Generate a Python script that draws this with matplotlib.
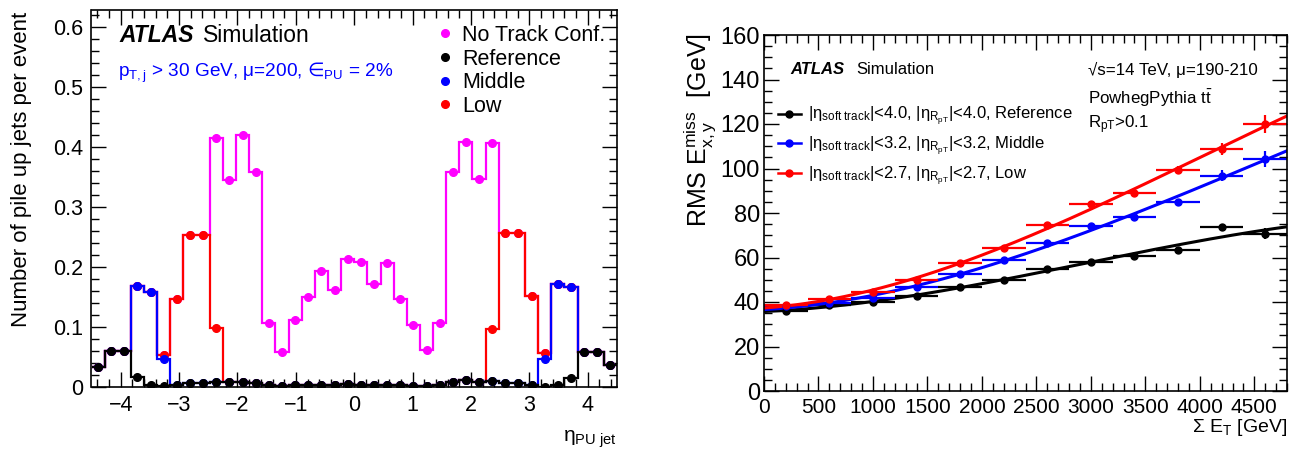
import numpy as np
import matplotlib
matplotlib.use('Agg')
import matplotlib.pyplot as plt
from matplotlib.ticker import MultipleLocator
from matplotlib.lines import Line2D

plt.rcParams['font.family'] = ['Liberation Sans', 'DejaVu Sans']
plt.rcParams['mathtext.fontset'] = 'custom'
plt.rcParams['mathtext.rm'] = 'Liberation Sans'
plt.rcParams['mathtext.it'] = 'Liberation Sans:italic'
plt.rcParams['mathtext.bf'] = 'Liberation Sans:bold'
plt.rcParams['mathtext.sf'] = 'DejaVu Sans'
plt.rcParams['mathtext.default'] = 'regular'
plt.rcParams['mathtext.fallback'] = 'stixsans'

# --- pile-up jets per event vs eta (40 bins, -4.5..4.5) ---
eta_lo, eta_hi, n_bins = -4.5, 4.5, 40

reference = [0.034, 0.060, 0.060, 0.016, 0.003, 0.001, 0.004, 0.007, 0.007, 0.009,
             0.009, 0.009, 0.007, 0.003, 0.001, 0.003, 0.004, 0.004, 0.004, 0.005,
             0.004, 0.004, 0.004, 0.003, 0.002, 0.001, 0.003, 0.009, 0.011, 0.009,
             0.010, 0.007, 0.007, 0.003, 0.000, 0.004, 0.015, 0.059, 0.058, 0.037]
middle = [0.034, 0.060, 0.060, 0.169, 0.159, 0.046, 0.004, 0.007, 0.007, 0.009,
          0.009, 0.009, 0.007, 0.003, 0.001, 0.003, 0.004, 0.004, 0.004, 0.005,
          0.004, 0.004, 0.004, 0.003, 0.002, 0.001, 0.003, 0.009, 0.011, 0.009,
          0.010, 0.007, 0.007, 0.003, 0.047, 0.171, 0.166, 0.059, 0.058, 0.037]
low = [0.034, 0.060, 0.060, 0.169, 0.159, 0.054, 0.147, 0.254, 0.253, 0.098,
       0.009, 0.009, 0.007, 0.003, 0.001, 0.003, 0.004, 0.004, 0.004, 0.005,
       0.004, 0.004, 0.004, 0.003, 0.002, 0.001, 0.003, 0.009, 0.011, 0.009,
       0.096, 0.256, 0.257, 0.151, 0.057, 0.171, 0.166, 0.059, 0.058, 0.037]
no_track = [0.034, 0.060, 0.060, 0.169, 0.159, 0.054, 0.147, 0.254, 0.253, 0.414,
            0.344, 0.419, 0.358, 0.107, 0.058, 0.112, 0.150, 0.194, 0.162, 0.214,
            0.209, 0.171, 0.206, 0.147, 0.103, 0.061, 0.107, 0.358, 0.408, 0.346,
            0.406, 0.256, 0.257, 0.151, 0.057, 0.171, 0.166, 0.059, 0.058, 0.037]

# --- RMS MET vs sum ET ---
sumet = [200, 600, 1000, 1400, 1800, 2200, 2600, 3000, 3400, 3800, 4200, 4600]
sumet_err = 200
rms_ref = [36.0, 38.5, 40.0, 42.7, 46.8, 49.8, 55.0, 58.1, 60.5, 63.5, 73.5, 70.7]
rms_mid = [38.0, 39.4, 42.0, 46.9, 52.4, 58.7, 66.6, 74.1, 78.3, 84.9, 96.8, 104.3]
rms_low = [38.5, 41.5, 44.7, 50.0, 57.5, 64.4, 74.7, 84.0, 89.1, 99.2, 108.8, 120.1]
err_ref = [0.4, 0.4, 0.5, 0.5, 0.6, 0.7, 0.8, 0.9, 1.0, 1.2, 1.6, 2.5]
err_mid = [0.4, 0.4, 0.5, 0.6, 0.7, 0.8, 0.9, 1.1, 1.3, 1.6, 2.4, 3.5]
err_low = [0.4, 0.5, 0.5, 0.6, 0.7, 0.8, 1.0, 1.2, 1.4, 1.8, 2.6, 4.0]

fig = plt.figure(figsize=(12.98, 4.53), dpi=100)
ax1 = fig.add_axes([91.5/1298, 66/453, 525.5/1298, 377/453])
ax2 = fig.add_axes([764/1298, 62/453, 523/1298, 356/453])

edges = np.linspace(eta_lo, eta_hi, n_bins + 1)
centers = 0.5*(edges[:-1] + edges[1:])

for vals, col in [(no_track, '#ff00ff'), (low, '#ff0000'), (middle, '#0000ff'), (reference, 'black')]:
    ax1.stairs(vals, edges, color=col, lw=1.6, baseline=None)
    ax1.plot(centers, vals, 'o', color=col, ms=5.5)

ax1.set_xlim(eta_lo, eta_hi)
ax1.set_ylim(0, 0.628)
ax1.xaxis.set_major_locator(MultipleLocator(1))
ax1.xaxis.set_minor_locator(MultipleLocator(0.2))
ax1.yaxis.set_minor_locator(MultipleLocator(0.02))
ax1.set_yticks([0, 0.1, 0.2, 0.3, 0.4, 0.5, 0.6])
ax1.set_yticklabels(['0', '0.1', '0.2', '0.3', '0.4', '0.5', '0.6'])

handles = [Line2D([], [], marker='o', ls='none', color=c, ms=5.5)
           for c in ['#ff00ff', 'black', '#0000ff', '#ff0000']]
ax1.legend(handles, ['No Track Conf.', 'Reference', 'Middle', 'Low'],
           loc='upper left', bbox_to_anchor=((437-91.5)/525.5, (387-25)/377),
           frameon=False, fontsize=15.5, handlelength=0.7, handletextpad=0.45,
           labelspacing=0.12, borderpad=0, borderaxespad=0)

ax1.text(0.054, (387-36)/377, 'ATLAS', transform=ax1.transAxes, fontsize=16.5,
         fontweight='bold', style='italic', va='center')
ax1.text(0.212, (387-36)/377, 'Simulation', transform=ax1.transAxes, fontsize=16.5,
         va='center')
ax1.text(0.050, (387-73)/377, r'p$_{T,j}$ > 30 GeV, μ=200, $\mathsf{∈}_{PU}$ = 2%',
         transform=ax1.transAxes, fontsize=13.7, va='center', color='#0000ff')
ax1.text(1.0, (387-439)/377, r'η$_{PU\ jet}$', transform=ax1.transAxes,
         fontsize=15, ha='right', va='center')
fig.text(22/1298, 1-12/453, 'Number of pile up jets per event', rotation=90,
         ha='center', va='top', fontsize=16)

# right panel: cubic fits through the points
curve_x = np.linspace(0, 4800, 300)
for y, e, col in [(rms_ref, err_ref, 'black'), (rms_mid, err_mid, '#0000ff'), (rms_low, err_low, '#ff0000')]:
    coef = np.polyfit(sumet, y, 3)
    ax2.plot(curve_x, np.polyval(coef, curve_x), color=col, lw=2.2)
    ax2.errorbar(sumet, y, xerr=sumet_err, yerr=e, fmt='o', color=col, ms=5,
                 elinewidth=1.6, capsize=0)

ax2.set_xlim(0, 4800)
ax2.set_ylim(0, 160)
ax2.xaxis.set_major_locator(MultipleLocator(500))
ax2.xaxis.set_minor_locator(MultipleLocator(100))
ax2.yaxis.set_major_locator(MultipleLocator(20))
ax2.yaxis.set_minor_locator(MultipleLocator(5))

leg_handles = [Line2D([], [], marker='o', color=c, ms=5, lw=1.8)
               for c in ['black', '#0000ff', '#ff0000']]
leg_labels = [r'|η$_{soft\ track}$|<4.0, |η$_{R_{pT}}$|<4.0, Reference',
              r'|η$_{soft\ track}$|<3.2, |η$_{R_{pT}}$|<3.2, Middle',
              r'|η$_{soft\ track}$|<2.7, |η$_{R_{pT}}$|<2.7, Low']
ax2.legend(leg_handles, leg_labels, loc='upper left',
           bbox_to_anchor=((778-764)/523, (391-105)/356), frameon=False,
           fontsize=12, handlelength=1.35, handletextpad=0.45, labelspacing=0.4,
           borderpad=0, borderaxespad=0)

ax2.text((790-764)/523, (391-70)/356, 'ATLAS', transform=ax2.transAxes, fontsize=12,
         fontweight='bold', style='italic', va='center')
ax2.text((856-764)/523, (391-70)/356, 'Simulation', transform=ax2.transAxes,
         fontsize=12, va='center')
ax2.text((1088-764)/523, (391-70)/356, '√s=14 TeV, μ=190-210', transform=ax2.transAxes,
         fontsize=12.2, va='center')
ax2.text((1088-764)/523, (391-98)/356, r'PowhegPythia $t\bar{t}$', transform=ax2.transAxes,
         fontsize=12.2, va='center')
ax2.text((1088-764)/523, (391-125)/356, r'R$_{pT}$>0.1', transform=ax2.transAxes,
         fontsize=12.2, va='center')
ax2.text(1.0, (391-427)/356, r'Σ E$_{T}$ [GeV]', transform=ax2.transAxes,
         fontsize=14, ha='right', va='center')
fig.text(700/1298, 1-33/453, r'RMS E$_{x,y}^{miss}$  [GeV]', rotation=90,
         ha='center', va='top', fontsize=18)

for ax in (ax1, ax2):
    ax.tick_params(which='both', direction='in', top=True, right=True, width=1)
    ax.tick_params(which='major', length=11)
    ax.tick_params(which='minor', length=5.5)
    for s in ax.spines.values():
        s.set_linewidth(1.2)
ax1.tick_params(labelsize=15.5, pad=6)
ax2.tick_params(axis='y', labelsize=17, pad=3)
ax2.tick_params(axis='x', labelsize=15, pad=5)

fig.savefig('out.png', dpi=100)
